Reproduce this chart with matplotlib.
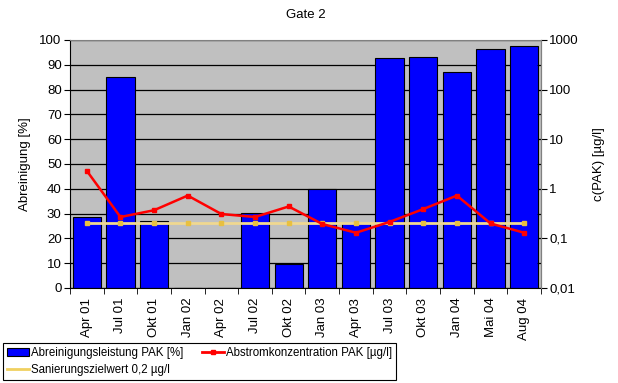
import matplotlib
matplotlib.use("Agg")
import matplotlib.pyplot as plt
import numpy as np

plt.rcParams['font.family'] = ['Liberation Sans', 'DejaVu Sans']
plt.rcParams['font.size'] = 9.5

# data
months = ["Apr 01", "Jul 01", "Okt 01", "Jan 02", "Apr 02", "Jul 02", "Okt 02",
          "Jan 03", "Apr 03", "Jul 03", "Okt 03", "Jan 04", "Mai 04", "Aug 04"]
abreinigung = [28.7, 85.2, 27.2, 0, 0, 30.2, 9.7, 39.8, 26.3, 92.7, 93.0, 87.0, 96.3, 97.5]
abstrom = [2.3, 0.27, 0.37, 0.73, 0.31, 0.27, 0.44, 0.195, 0.13, 0.215, 0.39, 0.73, 0.2, 0.13]
zielwert = [0.2] * len(months)

x = np.arange(len(months))

fig = plt.figure(figsize=(6.18, 3.83), dpi=100)
ax = fig.add_axes([70/618, 1-288/383, 471/618, 248/383])
ax.set_facecolor('#c0c0c0')

bars = ax.bar(x, abreinigung, width=0.84, color='#0000ff', edgecolor='black',
              linewidth=0.8, zorder=2, label='Abreinigungsleistung PAK [%]')
ax.set_xlim(-0.5, len(months) - 0.5)
ax.set_ylim(0, 100)
ax.set_yticks(range(0, 101, 10))
ax.yaxis.grid(True, color='black', linewidth=0.9)
ax.set_axisbelow(True)
ax.set_xticks(x)
ax.set_xticklabels(months, rotation=90)
ax.set_xticks(np.arange(-0.5, len(months), 1), minor=True)
ax.tick_params(axis='x', which='major', length=0, pad=7)
ax.tick_params(axis='x', which='minor', length=4, direction='out')
ax.tick_params(axis='y', length=4, direction='out', pad=2)
ax.set_ylabel('Abreinigung [%]', labelpad=6)
for s in ['top', 'right']:
    ax.spines[s].set_color('#808080')
ax.spines['left'].set_color('black')
ax.spines['bottom'].set_color('black')

ax2 = ax.twinx()
ax2.set_yscale('log')
ax2.set_ylim(0.01, 1000)
l2, = ax2.plot(x, zielwert, color='#f0d890', linewidth=2, marker='s', markersize=3,
               markerfacecolor='#e8c040', markeredgecolor='#e8c040', zorder=3,
               label='Sanierungszielwert 0,2 µg/l')
l1, = ax2.plot(x, abstrom, color='#ff0000', linewidth=1.8, marker='s', markersize=3.5,
               zorder=4, label='Abstromkonzentration PAK [µg/l]')
ticks = [0.01, 0.1, 1, 10, 100, 1000]
ax2.set_yticks(ticks)
ax2.set_yticklabels(['0,01', '0,1', '1', '10', '100', '1000'])
ax2.set_yticks([10**(k + 0.5) for k in range(-2, 3)], minor=True)
ax2.yaxis.set_minor_formatter(matplotlib.ticker.NullFormatter())
ax2.tick_params(axis='y', which='major', length=4, direction='out', pad=2)
ax2.tick_params(axis='y', which='minor', length=3, direction='in')
ax2.set_ylabel('c(PAK) [µg/l]', labelpad=10)
for s in ['top', 'right', 'left', 'bottom']:
    ax2.spines[s].set_visible(False)
ax2.spines['right'].set_visible(True)
ax2.spines['right'].set_color('#808080')

ax.set_title('Gate 2', fontsize=9.5, pad=16)

# legend: handles in order bar, red, yellow
yellow_handle = matplotlib.lines.Line2D([], [], color='#f0d060', linewidth=2)
red_handle = matplotlib.lines.Line2D([], [], color='#ff0000', linewidth=2,
                                     marker='s', markersize=3)
leg = fig.legend([bars, yellow_handle, red_handle],
                 ['Abreinigungsleistung PAK [%]', 'Sanierungszielwert 0,2 µg/l',
                  'Abstromkonzentration PAK [µg/l]'],
                 ncol=2, loc='lower left', bbox_to_anchor=(3/618, 3/383),
                 frameon=True, fancybox=False, edgecolor='black', framealpha=1,
                 fontsize=8.3, borderpad=0.35, handlelength=1.9, handletextpad=0.2,
                 columnspacing=1.6, labelspacing=0.45, borderaxespad=0)
leg.get_frame().set_linewidth(0.8)

fig.savefig('out.png', dpi=100)
